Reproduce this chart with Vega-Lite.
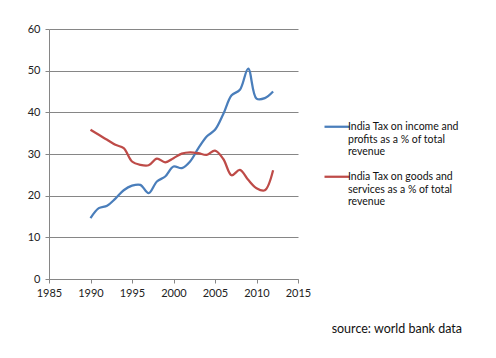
{
  "$schema": "https://vega.github.io/schema/vega-lite/v6.json",
  "width": 249,
  "height": 250,
  "autosize": "none",
  "padding": {"left": 49, "top": 29, "right": 198, "bottom": 79},
  "background": "white",
  "config": {
    "font": "Lato",
    "view": {"stroke": null},
    "axis": {"labelFont": "Lato", "labelFontSize": 11, "labelColor": "#222222", "domainColor": "#868686", "tickColor": "#868686", "tickSize": 4, "gridColor": "#868686", "gridOpacity": 1, "titleFontSize": 11, "labelFlush": false}
  },
  "title": {"text": "source: world bank data", "orient": "bottom", "anchor": "end", "frame": "group", "dx": 164, "offset": 25, "fontSize": 12.5, "fontWeight": "normal", "font": "Lato", "color": "#111111"},
  "data": {"values": [
    {"year": 1990, "value": 14.6, "series": "income"},
    {"year": 1991, "value": 17.0, "series": "income"},
    {"year": 1992, "value": 17.6, "series": "income"},
    {"year": 1993, "value": 19.3, "series": "income"},
    {"year": 1994, "value": 21.3, "series": "income"},
    {"year": 1995, "value": 22.4, "series": "income"},
    {"year": 1996, "value": 22.6, "series": "income"},
    {"year": 1997, "value": 20.6, "series": "income"},
    {"year": 1998, "value": 23.4, "series": "income"},
    {"year": 1999, "value": 24.6, "series": "income"},
    {"year": 2000, "value": 27.0, "series": "income"},
    {"year": 2001, "value": 26.6, "series": "income"},
    {"year": 2002, "value": 28.2, "series": "income"},
    {"year": 2003, "value": 31.4, "series": "income"},
    {"year": 2004, "value": 34.2, "series": "income"},
    {"year": 2005, "value": 35.8, "series": "income"},
    {"year": 2006, "value": 39.6, "series": "income"},
    {"year": 2007, "value": 44.1, "series": "income"},
    {"year": 2008, "value": 45.4, "series": "income"},
    {"year": 2009, "value": 50.5, "series": "income"},
    {"year": 2010, "value": 43.3, "series": "income"},
    {"year": 2011, "value": 43.4, "series": "income"},
    {"year": 2012, "value": 45.0, "series": "income"},
    {"year": 1990, "value": 35.8, "series": "goods"},
    {"year": 1991, "value": 34.6, "series": "goods"},
    {"year": 1992, "value": 33.4, "series": "goods"},
    {"year": 1993, "value": 32.2, "series": "goods"},
    {"year": 1994, "value": 31.4, "series": "goods"},
    {"year": 1995, "value": 28.2, "series": "goods"},
    {"year": 1996, "value": 27.4, "series": "goods"},
    {"year": 1997, "value": 27.3, "series": "goods"},
    {"year": 1998, "value": 28.9, "series": "goods"},
    {"year": 1999, "value": 28.0, "series": "goods"},
    {"year": 2000, "value": 29.0, "series": "goods"},
    {"year": 2001, "value": 30.1, "series": "goods"},
    {"year": 2002, "value": 30.4, "series": "goods"},
    {"year": 2003, "value": 30.2, "series": "goods"},
    {"year": 2004, "value": 29.8, "series": "goods"},
    {"year": 2005, "value": 30.8, "series": "goods"},
    {"year": 2006, "value": 28.8, "series": "goods"},
    {"year": 2007, "value": 24.9, "series": "goods"},
    {"year": 2008, "value": 26.2, "series": "goods"},
    {"year": 2009, "value": 23.8, "series": "goods"},
    {"year": 2010, "value": 21.8, "series": "goods"},
    {"year": 2011, "value": 21.3, "series": "goods"},
    {"year": 2012, "value": 26.1, "series": "goods"}
  ]},
  "mark": {"type": "line", "interpolate": "catmull-rom", "strokeWidth": 2.25},
  "encoding": {
    "x": {"field": "year", "type": "quantitative", "scale": {"domain": [1985, 2015], "nice": false, "zero": false},
      "axis": {"title": null, "values": [1985, 1990, 1995, 2000, 2005, 2010, 2015], "format": "d", "grid": false, "labelPadding": 4}},
    "y": {"field": "value", "type": "quantitative", "scale": {"domain": [0, 60], "nice": false},
      "axis": {"title": null, "values": [0, 10, 20, 30, 40, 50, 60], "grid": true, "labelPadding": 5}},
    "color": {"field": "series", "type": "nominal",
      "scale": {"domain": ["income", "goods"], "range": ["#4a7ebb", "#be4b48"]},
      "legend": {
        "title": null, "orient": "none", "legendX": 274, "legendY": 79,
        "symbolType": "M-1,0.38H1", "symbolSize": 625, "symbolStrokeWidth": 2.25,
        "labelBaseline": "top", "labelFontSize": 10.5, "labelFont": "Lato", "labelColor": "#111111", "labelOffset": -3, "labelLimit": 200,
        "rowPadding": -6,
        "labelExpr": "datum.value == 'income' ? ['India Tax on income and', 'profits as a % of total', 'revenue'] : ['India Tax on goods and', 'services as a % of total', 'revenue']"
      }}
  }
}
